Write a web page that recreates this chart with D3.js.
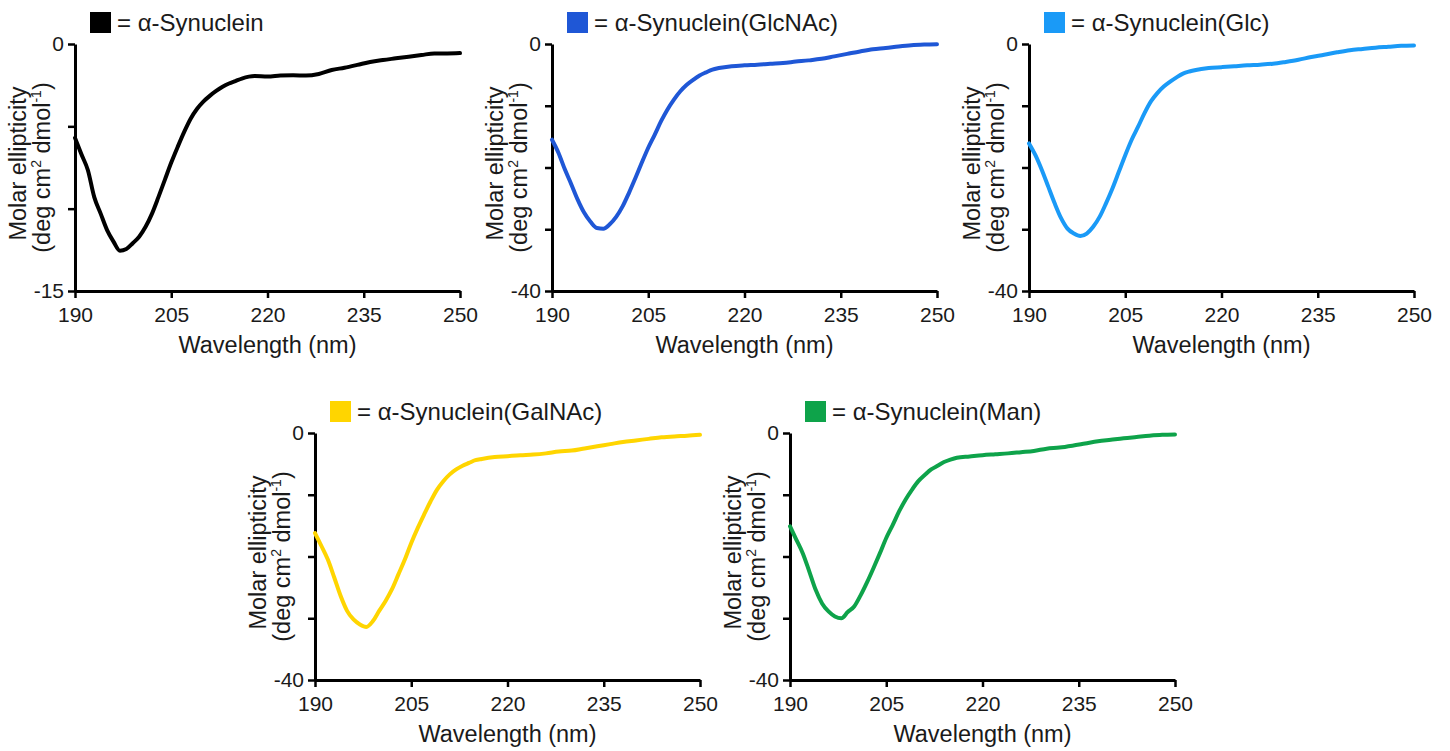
<!DOCTYPE html>
<html>
<head>
<meta charset="utf-8">
<script src="https://cdn.jsdelivr.net/npm/d3@7"></script>
<style>
    body { margin: 0; background: #fff; }
    text { font-family: "Liberation Sans", Arial, Helvetica, sans-serif; fill: #1a1a1a; }
</style>
</head>
<body>
<script>
// wavelength grid (nm) shared by every spectrum
const wavelengths = [190, 191, 192, 193, 194, 195, 196, 197, 198, 199, 200, 201, 202, 203, 204, 205, 206, 207, 208,
    209, 210, 211, 212, 213, 214, 215, 216, 218, 220, 222, 224, 226, 228, 230, 232, 234, 236, 238, 240, 242, 244, 246, 248, 250];

// molar ellipticity
const synuclein = [-5.7, -6.7, -7.65, -9.3, -10.3, -11.3, -12.0, -12.55, -12.45, -12.1, -11.7, -11.1, -10.3, -9.3, -8.25,
    -7.2, -6.25, -5.35, -4.55, -3.95, -3.5, -3.15, -2.85, -2.6, -2.4, -2.25, -2.1,
    -1.95, -1.98, -1.92, -1.9, -1.92, -1.82, -1.58, -1.44, -1.27, -1.09, -0.97, -0.87, -0.77, -0.67, -0.57, -0.57, -0.55];
const glcnac = [-15.5, -17.6, -20.3, -22.7, -25.2, -27.3, -28.8, -29.8, -29.9, -29.2, -28.0, -26.3, -24.1, -21.7, -19.2,
    -16.8, -14.7, -12.5, -10.6, -9.0, -7.65, -6.6, -5.8, -5.1, -4.6, -4.15, -3.9,
    -3.6, -3.45, -3.35, -3.2, -3.07, -2.85, -2.65, -2.4, -2.0, -1.6, -1.2, -0.85, -0.65, -0.4, -0.2, -0.1, -0.05];
const glc = [-16.1, -18.0, -20.4, -23.1, -25.8, -28.2, -29.9, -30.7, -31.1, -30.7, -29.6, -28.0, -25.8, -23.4, -20.7,
    -18.0, -15.5, -13.4, -11.2, -9.3, -7.95, -6.9, -6.1, -5.4, -4.8, -4.45, -4.2,
    -3.9, -3.75, -3.6, -3.45, -3.35, -3.2, -2.9, -2.55, -2.1, -1.75, -1.35, -1.0, -0.8, -0.6, -0.45, -0.3, -0.25];
const galnac = [-16.2, -18.3, -20.5, -23.4, -26.4, -28.8, -30.2, -31.0, -31.4, -30.5, -28.8, -27.2, -25.3, -22.9, -20.5,
    -17.8, -15.4, -13.2, -11.1, -9.2, -7.8, -6.7, -5.9, -5.3, -4.85, -4.4, -4.2,
    -3.9, -3.75, -3.6, -3.5, -3.3, -3.0, -2.85, -2.5, -2.15, -1.8, -1.45, -1.2, -0.95, -0.7, -0.55, -0.45, -0.3];
const man = [-15.1, -17.3, -19.5, -22.4, -25.4, -27.6, -28.9, -29.7, -30.0, -29.0, -28.1, -26.3, -24.2, -21.9, -19.5,
    -17.0, -14.9, -12.7, -10.8, -9.2, -7.8, -6.8, -5.9, -5.3, -4.7, -4.3, -4.0,
    -3.8, -3.6, -3.45, -3.3, -3.1, -2.9, -2.55, -2.35, -2.05, -1.7, -1.35, -1.1, -0.85, -0.65, -0.45, -0.3, -0.25];

const seriesNames = ["α-Synuclein", "α-Synuclein(GlcNAc)", "α-Synuclein(Glc)", "α-Synuclein(GalNAc)", "α-Synuclein(Man)"];
const seriesValues = [synuclein, glcnac, glc, galnac, man];
const seriesColors = ["#000000", "#1f57d6", "#1a9af7", "#ffd500", "#0ea34a"];
const yMins = [-15, -40, -40, -40, -40];
const yStep = [5, 10, 10, 10, 10];
const xTicks = [190, 205, 220, 235, 250];

// panel origins (top-left of plot area)
const origins = [[75, 44], [552, 44], [1029, 44], [315, 433], [790, 433]];
const plotW = 385;
const plotH = 247;

const svg = d3.select("body")
    .append("svg")
    .attr("width", 1450)
    .attr("height", 751);

for (let i = 0; i < seriesNames.length; i++) {
    let [ox, oy] = origins[i];
    let g = svg.append("g").attr("transform", `translate(${ox},${oy})`);

    let x = d3.scaleLinear().domain([190, 250]).range([0, plotW]);
    let y = d3.scaleLinear().domain([yMins[i], 0]).range([plotH, 0]);

    let yTicks = d3.range(0, yMins[i] - 0.01, -yStep[i]);

    let xAxis = g.append("g")
        .attr("transform", `translate(0,${plotH})`)
        .call(d3.axisBottom(x).tickValues(xTicks).tickSize(7).tickSizeOuter(0).tickPadding(9));

    let yAxis = g.append("g")
        .call(d3.axisLeft(y).tickValues(yTicks).tickSize(7).tickSizeOuter(0).tickPadding(6)
            .tickFormat(d => (d === 0 || d === yMins[i]) ? d : ""));

    [xAxis, yAxis].forEach(a => {
        a.select(".domain").attr("stroke", "#000").attr("stroke-width", 3);
        a.selectAll(".tick line").attr("stroke", "#000").attr("stroke-width", 2.5);
        a.selectAll(".tick text").style("font-size", "21px").attr("fill", "#1a1a1a");
    });
    yAxis.selectAll(".tick text").attr("x", -11);

    // spectrum
    let pts = wavelengths.map((w, k) => [w, seriesValues[i][k]]);
    let line = d3.line()
        .x(d => x(d[0]))
        .y(d => y(d[1]))
        .curve(d3.curveMonotoneX);

    g.append("path")
        .datum(pts)
        .attr("d", line)
        .attr("fill", "none")
        .attr("stroke", seriesColors[i])
        .attr("stroke-width", 4)
        .attr("stroke-linejoin", "round")
        .attr("stroke-linecap", "round");

    // legend swatch + name
    g.append("rect")
        .attr("x", 15)
        .attr("y", -32)
        .attr("width", 21)
        .attr("height", 21)
        .attr("fill", seriesColors[i]);

    g.append("text")
        .attr("x", 42)
        .attr("y", -13)
        .style("font-size", "24px")
        .text("= " + seriesNames[i]);

    // axis titles
    g.append("text")
        .attr("x", plotW / 2)
        .attr("y", plotH + 62)
        .attr("text-anchor", "middle")
        .style("font-size", "23.5px")
        .text("Wavelength (nm)");

    let yt = g.append("text")
        .attr("transform", `translate(-49,${plotH / 2 - 4}) rotate(-90)`)
        .attr("text-anchor", "middle")
        .style("font-size", "23.5px");
    yt.append("tspan").attr("x", 0).attr("dy", 0).text("Molar ellipticity");

    let yt2 = g.append("text")
        .attr("transform", `translate(-25,${plotH / 2}) rotate(-90)`)
        .attr("text-anchor", "middle")
        .style("font-size", "23.5px");
    yt2.append("tspan").text("(deg cm");
    yt2.append("tspan").attr("dy", -9).style("font-size", "14px").text("2");
    yt2.append("tspan").attr("dy", 9).text(" dmol");
    yt2.append("tspan").attr("dy", -9).style("font-size", "14px").text("-1");
    yt2.append("tspan").attr("dy", 9).text(")");
}
</script>
</body>
</html>
